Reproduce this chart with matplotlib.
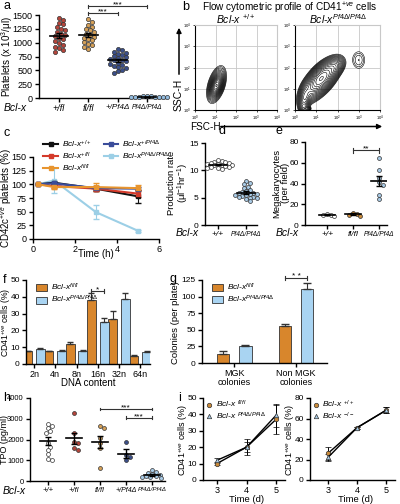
import numpy as np
import matplotlib
matplotlib.use("Agg")
import matplotlib.pyplot as plt
from matplotlib.lines import Line2D
from matplotlib.patches import Patch, FancyArrowPatch

plt.rcParams["font.family"] = ["Liberation Sans", "DejaVu Sans"]
plt.rcParams["mathtext.fontset"] = "custom"
plt.rcParams["mathtext.rm"] = "Liberation Sans"
plt.rcParams["mathtext.it"] = "Liberation Sans:italic"
plt.rcParams["mathtext.bf"] = "Liberation Sans:bold"

# ---- data ----
# a: platelet counts
a_labels = ["+/fl", "fl/fl", "+/Pf4Δ", "Pf4Δ/Pf4Δ"]
a_plus_fl = [1440, 1410, 1360, 1330, 1290, 1250, 1230, 1190, 1160, 1140, 1120, 1090,
             1060, 1030, 990, 960, 930, 900, 870, 840]
a_fl_fl = [1420, 1380, 1320, 1290, 1250, 1220, 1190, 1160, 1140, 1110, 1090, 1060,
           1040, 1010, 980, 950, 920, 880]
a_plus_pf4 = [880, 860, 840, 820, 800, 780, 760, 740, 720, 710, 690, 680, 660, 640,
              620, 600, 580, 560, 540, 510, 480, 450]
a_pf4_pf4 = [35, 30, 28, 25, 22, 20, 18, 15, 12, 10]

# b: flow cytometry density components (weight, log FSC, log SSC, sd x, sd y, corr)
b_wt_comps = [(1.0, 1.05, 1.15, 0.14, 0.22, 0.4),
              (0.8, 1.05, 1.20, 0.26, 0.48, 0.45)]
b_ko_comps = [(1.0, 1.25, 1.50, 0.35, 0.38, 0.6),
              (0.6, 1.15, 1.35, 0.50, 0.55, 0.7),
              (0.15, 0.45, 0.55, 0.14, 0.33, 0.3),
              (0.10, 1.90, 2.05, 0.22, 0.22, 0.3),
              (0.022, 0.50, 0.05, 0.12, 0.07, 0.0),
              (0.06, 3.00, 2.35, 0.25, 0.35, 0.0)]

# c: platelet survival
c_time = [0.25, 1, 3, 5]
c_wt = [100, 103, 92, 78]
c_wt_err = [0, 3, 5, 12]
c_het = [100, 97, 92, 83]
c_het_err = [0, 3, 4, 6]
c_fl = [100, 95, 95, 93]
c_fl_err = [0, 4, 8, 5]
c_pf4het = [100, 102, 93, 92]
c_pf4het_err = [0, 3, 4, 4]
c_ko = [100, 107, 49, 15]
c_ko_err = [0, 22, 13, 2]

# d: production rate
d_labels = ["+/+", "Pf4Δ/Pf4Δ"]
d_wt = [11.8, 11.7, 11.6, 11.5, 11.4, 11.3, 11.2, 11.1, 11.0, 11.0, 10.9, 10.8,
        10.7, 10.6, 10.5, 10.4, 10.3]
d_ko = [8.1, 7.7, 7.5, 7.0, 6.8, 6.4, 6.2, 6.0, 5.9, 5.8, 5.7, 5.6, 5.5, 5.4, 5.3,
        5.2, 5.1, 5.0, 4.9, 4.7, 4.3]

# e: megakaryocytes
e_labels = ["+/+", "fl/fl", "Pf4Δ/Pf4Δ"]
e_wt = [11, 10, 9.5, 8.5]
e_fl = [12, 11, 10, 9]
e_ko = [65, 53, 45, 41, 39, 29, 25]

# f: ploidy
f_labels = ["2n", "4n", "8n", "16n", "32n", "64n"]
f_fl = [7.5, 7.5, 12, 38, 27, 5]
f_fl_err = [0.5, 0.4, 0.8, 4.5, 4.5, 0.5]
f_ko = [9, 7.8, 8, 25, 38.5, 7.3]
f_ko_err = [0.6, 0.6, 0.5, 2.5, 4, 0.5]

# g: colonies
g_labels = ["MGK\ncolonies", "Non MGK\ncolonies"]
g_fl = [14, 55]
g_fl_err = [4, 4]
g_ko = [25, 111]
g_ko_err = [2, 10]

# h: TPO
h_labels = ["+/+", "+/fl", "fl/fl", "+/Pf4Δ", "Pf4Δ/Pf4Δ"]
h_wt = [2740, 2630, 2550, 2390, 2300, 1820, 1660, 1500, 1290, 1065, 1015]
h_het = [3270, 2300, 1900, 1820, 1600, 1500]
h_fl = [2630, 2550, 2060, 1820, 1580, 610]
h_pf4het = [1900, 1250, 1150, 1000]
h_ko = [520, 450, 400, 330, 300, 260, 230, 200, 170, 140]

# i: CD41+ cells in culture
i_days = [3, 4, 5]
i_fl = [10, 20, 37]
i_fl_err = [1, 3, 9]
i_ko = [12, 20, 39.5]
i_ko_err = [1.5, 5, 7]
i_wt = [26, 51, 68]
i_wt_err = [6, 1, 3]
i_null = [22, 51, 68]
i_null_err = [3, 1, 3]

RED = "#B5453B"
TAN = "#D6A158"
DBLUE = "#3B4F8A"
LBLUE = "#93BCDF"
ORANGE = "#D8862C"
BARBLUE = "#A9D4F2"
EDGE = "#333333"
TICK = 6.5
LAB = 7
LEG = 6

W, H = 400, 504
fig = plt.figure(figsize=(4, 5.04), dpi=100)


def px_axes(x0, x1, y0, y1):
    return fig.add_axes([x0 / W, 1 - y1 / H, (x1 - x0) / W, (y1 - y0) / H])


def ftext(x, y, s, **kw):
    kw.setdefault("ha", "center")
    kw.setdefault("va", "center")
    fig.text(x / W, 1 - y / H, s, **kw)


def prism(ax, ytop=None, ysize=TICK):
    for s in ("top", "right"):
        ax.spines[s].set_visible(False)
    for s in ("left", "bottom"):
        ax.spines[s].set_linewidth(1.0)
    ax.tick_params(direction="out", length=3, width=1, labelsize=TICK, pad=1.5)
    ax.tick_params(axis="y", labelsize=ysize)
    if ytop is not None:
        ax.spines["left"].set_bounds(0, ytop)


def swarm(ax, vals, diam=4.0):
    x0, x1 = ax.get_xlim()
    y0, y1 = ax.get_ylim()
    bb = ax.get_position()
    xpx = bb.width * W / (x1 - x0)
    ypx = bb.height * H / (y1 - y0)
    cands = sorted([0.0] + [s * k * diam * 0.5 for k in range(1, 40) for s in (1, -1)], key=abs)
    placed, offs = [], []
    for v in vals:
        y = v * ypx
        for c in cands:
            if all((c - px) ** 2 + (y - py) ** 2 >= diam ** 2 for px, py in placed):
                break
        placed.append((c, y))
        offs.append(c / xpx)
    return np.array(offs)


def dots(ax, pos, vals, color, diam=4.0, size=9):
    offs = swarm(ax, vals, diam)
    ax.scatter(pos + offs, vals, s=size, color=color, edgecolors=EDGE, linewidths=0.5,
               zorder=3, clip_on=False)
    m = np.mean(vals)
    se = np.std(vals, ddof=1) / np.sqrt(len(vals))
    ax.plot([pos - 0.32, pos + 0.32], [m, m], color="k", lw=1.2, zorder=4)
    ax.errorbar(pos, m, yerr=se, color="k", lw=1, capsize=2.5, capthick=1, zorder=4)


def bracket(ax, x0, x1, y, s, tick):
    kw = dict(color=EDGE, lw=0.8, clip_on=False)
    ax.plot([x0, x1], [y, y], **kw)
    ax.plot([x0, x0], [y - tick, y + tick], **kw)
    ax.plot([x1, x1], [y - tick, y + tick], **kw)
    ax.text((x0 + x1) / 2, y, s, ha="center", va="baseline", fontsize=6)


def arrow(x0, y0, x1, y1):
    fig.add_artist(FancyArrowPatch((x0 / W, 1 - y0 / H), (x1 / W, 1 - y1 / H),
                                   transform=fig.transFigure, arrowstyle="-|>",
                                   mutation_scale=7, lw=1.1, color="k"))


# panel letters
for lab, x, y in [("a", 3, 6), ("b", 182, 7), ("c", 3, 133), ("d", 218, 131),
                  ("e", 275, 131), ("f", 3, 280), ("g", 169, 279), ("h", 3, 398),
                  ("i", 178, 398)]:
    ftext(x, y, lab, ha="left", fontsize=9)

# ---- a ----
ax = px_axes(39, 165, 2, 98)
prism(ax, 1500)
ax.set_xlim(-0.68, 3.61)
ax.set_ylim(0, 1735)
ax.set_yticks(range(0, 1501, 250))
ax.set_xticks(range(4))
ax.set_xticklabels(a_labels, style="italic", fontsize=TICK)
ax.get_xticklabels()[2].set_fontsize(5.8)
ax.get_xticklabels()[-1].set_fontsize(4.8)
for i, (vals, col) in enumerate([(a_plus_fl, RED), (a_fl_fl, TAN),
                                 (a_plus_pf4, DBLUE), (a_pf4_pf4, LBLUE)]):
    dots(ax, i, vals, col)
bracket(ax, 1, 2, 1530, "***", 25)
bracket(ax, 1, 3, 1655, "***", 25)
ftext(15, 108, "Bcl-x", style="italic", fontsize=LAB + 0.5)
ftext(7.5, 56, "Platelets (x 10$^3$/μl)", rotation=90, fontsize=LAB)

# ---- b ----
ftext(290, 8, "Flow cytometric profile of CD41$^{+ve}$ cells", fontsize=7.2)
ftext(236, 19, "Bcl-x $^{+/+}$", style="italic", fontsize=7.5)
ftext(338, 19, "Bcl-x$^{Pf4Δ/Pf4Δ}$", style="italic", fontsize=7.5)
grid = np.linspace(-0.3, 4.3, 300)
GX, GY = np.meshgrid(grid, grid)


def density(comps):
    Z = np.zeros_like(GX)
    for w, mx, my, sx, sy, r in comps:
        dx = (GX - mx) / sx
        dy = (GY - my) / sy
        Z += w / (2 * np.pi * sx * sy * np.sqrt(1 - r * r)) * np.exp(
            -(dx * dx - 2 * r * dx * dy + dy * dy) / (2 * (1 - r * r)))
    return Z


for comps, x0, x1 in [(b_wt_comps, 195, 277), (b_ko_comps, 295, 380)]:
    ax = px_axes(x0, x1, 25, 110)
    Z = density(comps)
    levels = np.geomspace(0.03, 0.97, 18) * Z.max()
    ax.contour(GX, GY, Z, levels=levels, colors="k", linewidths=0.4)
    ax.set_xlim(0, 4)
    ax.set_ylim(0, 4)
    ticks = [0, 1, 2, 3, 4]
    labs = ["$10^{%d}$" % t for t in ticks]
    ax.set_xticks(ticks)
    ax.set_yticks(ticks)
    ax.set_xticklabels(labs, fontsize=3)
    ax.set_yticklabels(labs, fontsize=3)
    ax.tick_params(length=1.5, width=0.5, pad=1)
    ax.grid(True, color="#c8c8c8", lw=0.6)
    for s in ("top", "right"):
        ax.spines[s].set_color("#c8c8c8")
    for s in ("left", "bottom"):
        ax.spines[s].set_linewidth(0.8)
ftext(179, 95, "SSC-H", rotation=90, fontsize=LAB + 0.5)
arrow(179, 77, 179, 25)
ftext(205, 126.5, "FSC-H", fontsize=7.2)
arrow(218, 126.5, 385, 126.5)

# ---- c ----
ax = px_axes(33, 159, 157, 239)
prism(ax)
ax.set_xlim(0, 6)
ax.set_ylim(0, 150)
ax.set_yticks(range(0, 151, 25))
ax.set_xticks([0, 2, 4, 6])
series = [(c_ko, c_ko_err, "#9CCFE6", "Bcl-x$^{Pf4Δ/Pf4Δ}$"),
          (c_wt, c_wt_err, "#111111", "Bcl-x$^{+/+}$"),
          (c_het, c_het_err, "#D43A2A", "Bcl-x$^{+/fl}$"),
          (c_pf4het, c_pf4het_err, "#3A4C9A", "Bcl-x$^{+/Pf4Δ}$"),
          (c_fl, c_fl_err, "#E8952F", "Bcl-x$^{fl/fl}$")]
handles = {}
for vals, err, col, lab in series:
    ax.errorbar(c_time, vals, yerr=err, color=col, lw=1.5, marker="s", ms=3.2,
                capsize=2, elinewidth=0.8, clip_on=False)
    handles[lab] = Line2D([], [], color=col, lw=1.5, marker="s", ms=3)
order = ["Bcl-x$^{+/+}$", "Bcl-x$^{+/fl}$", "Bcl-x$^{fl/fl}$",
         "Bcl-x$^{+/Pf4Δ}$", "Bcl-x$^{Pf4Δ/Pf4Δ}$"]
ax.legend([handles[k] for k in order], order, ncol=2, loc="upper left",
          bbox_to_anchor=(0.05, 1.28), frameon=False, prop={"size": LEG, "style": "italic"},
          handlelength=1.7, labelspacing=0.1, columnspacing=1.5, borderpad=0,
          handletextpad=0.5)
ftext(7.5, 198, "CD42c$^{+ve}$ platelets (%)", rotation=90, fontsize=LAB)
ftext(96, 254, "Time (h)", fontsize=LAB)

# ---- d ----
ax = px_axes(205, 257, 143, 225)
prism(ax, ysize=6)
ax.set_xlim(-0.46, 1.39)
ax.set_ylim(0, 15)
ax.set_yticks([0, 5, 10, 15])
ax.set_xticks([0, 1])
ax.set_xticklabels(d_labels, style="italic", fontsize=6)
ax.get_xticklabels()[-1].set_fontsize(4.8)
dots(ax, 0, d_wt, "white", diam=3.6, size=8)
dots(ax, 1, d_ko, "#A9CBE6", diam=3.6, size=8)
ftext(187, 233, "Bcl-x", style="italic", fontsize=LAB + 0.5)
ftext(179, 183, "Production rate\n(μl$^{-1}$hr$^{-1}$)", rotation=90, fontsize=6.8,
      linespacing=1.0)

# ---- e ----
ax = px_axes(305, 387, 142, 225)
prism(ax, ysize=6)
ax.set_xlim(-0.85, 2.31)
ax.set_ylim(0, 80)
ax.set_yticks(range(0, 81, 20))
ax.set_xticks([0, 1, 2])
ax.set_xticklabels(e_labels, style="italic", fontsize=6)
ax.get_xticklabels()[-1].set_fontsize(4.8)
dots(ax, 0, e_wt, "white", diam=3.6, size=8)
dots(ax, 1, e_fl, "#C98A3A", diam=3.6, size=8)
dots(ax, 2, e_ko, "#A9CBE6", diam=3.6, size=8)
bracket(ax, 1, 2, 72, "**", 2.5)
ftext(287, 233, "Bcl-x", style="italic", fontsize=LAB + 0.5)
ftext(281, 183, "Megakaryocytes\n(per field)", rotation=90, fontsize=6.8, linespacing=1.0)

# ---- f ----
ax = px_axes(26, 150, 280, 364)
prism(ax, ysize=6)
x = np.arange(len(f_labels))
ax.set_xlim(-0.38, 5.46)
ax.set_ylim(0, 50)
ax.set_yticks(range(0, 51, 10))
ax.bar(x - 0.3, f_fl, 0.42, color=ORANGE, edgecolor=EDGE, lw=0.6)
ax.bar(x + 0.3, f_ko, 0.42, color=BARBLUE, edgecolor=EDGE, lw=0.6)
ax.errorbar(x - 0.3, f_fl, yerr=[np.zeros(6), f_fl_err], fmt="none", ecolor=EDGE,
            elinewidth=0.8, capsize=2)
ax.errorbar(x + 0.3, f_ko, yerr=[np.zeros(6), f_ko_err], fmt="none", ecolor=EDGE,
            elinewidth=0.8, capsize=2)
ax.set_xticks(x)
ax.set_xticklabels(f_labels, fontsize=TICK)
bracket(ax, 2.7, 3.3, 43.5, "*", 1)
ax.legend([Patch(facecolor=ORANGE, edgecolor=EDGE, lw=0.6),
           Patch(facecolor=BARBLUE, edgecolor=EDGE, lw=0.6)],
          ["Bcl-x$^{fl/fl}$", "Bcl-x$^{Pf4Δ/Pf4Δ}$"], loc="upper left",
          bbox_to_anchor=(0.05, 1.03), frameon=False, prop={"size": LEG, "style": "italic"},
          handlelength=1.3, handleheight=0.9, labelspacing=0.15, borderpad=0,
          handletextpad=0.5)
ftext(6.2, 322, "CD41$^{+ve}$ cells (%)", rotation=90, fontsize=6.2)
ftext(88, 383, "DNA content", fontsize=LAB)

# ---- g ----
ax = px_axes(202, 327, 280, 363)
prism(ax, ysize=6)
x = np.arange(len(g_labels))
ax.set_xlim(-0.52, 1.5)
ax.set_ylim(0, 125)
ax.set_yticks(range(0, 126, 25))
ax.bar(x - 0.18, g_fl, 0.2, color=ORANGE, edgecolor=EDGE, lw=0.6)
ax.bar(x + 0.18, g_ko, 0.2, color=BARBLUE, edgecolor=EDGE, lw=0.6)
ax.errorbar(x - 0.18, g_fl, yerr=[np.zeros(2), g_fl_err], fmt="none", ecolor=EDGE,
            elinewidth=0.8, capsize=3)
ax.errorbar(x + 0.18, g_ko, yerr=[np.zeros(2), g_ko_err], fmt="none", ecolor=EDGE,
            elinewidth=0.8, capsize=3)
ax.set_xticks(x)
ax.set_xticklabels(g_labels, fontsize=TICK, linespacing=1.0)
bracket(ax, 0.82, 1.18, 128, "* *", 3)
ax.legend([Patch(facecolor=ORANGE, edgecolor=EDGE, lw=0.6),
           Patch(facecolor=BARBLUE, edgecolor=EDGE, lw=0.6)],
          ["Bcl-x$^{fl/fl}$", "Bcl-x$^{Pf4Δ/Pf4Δ}$"], loc="upper left",
          bbox_to_anchor=(0.05, 1.03), frameon=False, prop={"size": LEG, "style": "italic"},
          handlelength=1.3, handleheight=0.9, labelspacing=0.05, borderpad=0,
          handletextpad=0.5)
ftext(176, 322, "Colonies (per plate)", rotation=90, fontsize=6.8)

# ---- h ----
ax = px_axes(30, 165, 398, 481)
prism(ax, ysize=5.5)
ax.set_xlim(-0.69, 4.5)
ax.set_ylim(0, 4000)
ax.set_yticks(range(0, 4001, 1000))
ax.set_xticks(range(5))
ax.set_xticklabels(h_labels, style="italic", fontsize=5.5)
ax.get_xticklabels()[3].set_fontsize(5)
ax.get_xticklabels()[-1].set_fontsize(4.5)
for i, (vals, col) in enumerate([(h_wt, "white"), (h_het, RED), (h_fl, TAN),
                                 (h_pf4het, DBLUE), (h_ko, "#A9CBE6")]):
    dots(ax, i, vals, col, diam=3.8, size=8)
bracket(ax, 2, 4, 3470, "***", 70)
bracket(ax, 3, 4, 3040, "***", 70)
ftext(14, 491, "Bcl-x", style="italic", fontsize=LAB + 0.5)
ftext(5, 440, "TPO (pg/ml)", rotation=90, fontsize=6.5)

# ---- i ----
for (x0, x1, xl, ylim, yt, s1, e1, s2, e2, l1, l2, ylx) in [
        (203, 285, (2.53, 5.3), 50, 10, i_fl, i_fl_err, i_ko, i_ko_err,
         "Bcl-x $^{fl/fl}$", "Bcl-x $^{Pf4Δ/Pf4Δ}$", 183),
        (310, 395, (2.38, 5.31), 80, 20, i_wt, i_wt_err, i_null, i_null_err,
         "Bcl-x $^{+/+}$", "Bcl-x $^{-/-}$", 290)]:
    ax = px_axes(x0, x1, 398, 480)
    prism(ax, ysize=6)
    ax.set_xlim(*xl)
    ax.set_ylim(0, ylim)
    ax.set_yticks(range(0, ylim + 1, yt))
    ax.set_xticks(i_days)
    ax.tick_params(axis="x", pad=1)
    ax.errorbar(i_days, s1, yerr=e1, color="k", lw=1, marker="o", ms=3.2, mfc="#C98A3A",
                mec=EDGE, mew=0.5, capsize=2, elinewidth=0.7)
    ax.errorbar(i_days, s2, yerr=e2, color="k", lw=1, marker="^", ms=3.2, mfc="#A9CBE6",
                mec=EDGE, mew=0.5, capsize=2, elinewidth=0.7)
    ax.legend([Line2D([], [], ls="", marker="o", ms=3.2, mfc="#C98A3A", mec=EDGE, mew=0.5),
               Line2D([], [], ls="", marker="^", ms=3.2, mfc="#A9CBE6", mec=EDGE, mew=0.5)],
              [l1, l2], loc="upper left", bbox_to_anchor=(-0.02, 1.04), frameon=False,
              prop={"size": LEG, "style": "italic"}, handlelength=0.8, labelspacing=0.05,
              borderpad=0, handletextpad=0.4)
    ftext(ylx, 440, "CD41$^{+ve}$ cells (%)", rotation=90, fontsize=6.5)
    ftext((x0 + x1) / 2 + 3, 499, "Time (d)", fontsize=6.8)

fig.savefig("out.png", dpi=100)
